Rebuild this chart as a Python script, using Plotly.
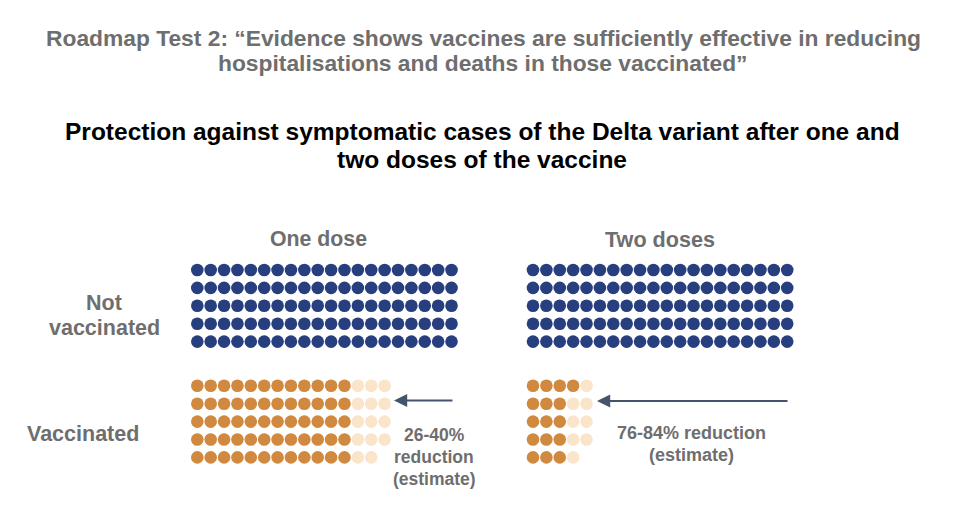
import plotly.graph_objects as go

# ---- data ----
groups = ["One dose", "Two doses"]
unvacc_cases = [100, 100]          # symptomatic cases per 100, not vaccinated
vacc_upper = [74, 24]              # upper estimate of cases (lower reduction bound)
vacc_lower = [60, 16]              # lower estimate of cases (upper reduction bound)
unvacc_rows = [[20, 20, 20, 20, 20], [20, 20, 20, 20, 20]]
vacc_dark_rows = [[12, 12, 12, 12, 12], [4, 3, 3, 3, 3]]
vacc_light_rows = [[3, 3, 3, 3, 2], [1, 2, 2, 2, 1]]
reduction_labels = [["26-40%", "reduction", "(estimate)"], ["76-84% reduction", "(estimate)"]]
row_labels = [["Not", "vaccinated"], ["Vaccinated"]]
title_lines = ["Roadmap Test 2: \u201cEvidence shows vaccines are sufficiently effective in reducing",
               "hospitalisations and deaths in those vaccinated\u201d"]
subtitle_lines = ["Protection against symptomatic cases of the Delta variant after one and",
                  "two doses of the vaccine"]

BLUE = "#283F7F"
ORANGE = "#D0893E"
LIGHT = "#FAE4CA"
GRAY = "#6E6E6E"
ARROW = "#44546A"
FONT = "Liberation Sans, Arial, sans-serif"

# layout constants (pixel-like axis)
x0 = [197.3, 533.0]
dx = 13.38
y_top = [270.0, 385.8]
dy = 17.9

fig = go.Figure()

def add_dots(xs, ys, color):
    fig.add_trace(go.Scatter(x=xs, y=ys, mode="markers",
                             marker=dict(size=12.6, color=color, line=dict(width=0)),
                             hoverinfo="skip", showlegend=False))

for g in range(2):
    xs, ys = [], []
    for r, n in enumerate(unvacc_rows[g]):
        for c in range(n):
            xs.append(x0[g] + dx * c)
            ys.append(y_top[0] + dy * r)
    add_dots(xs, ys, BLUE)
    xd, yd, xl, yl = [], [], [], []
    for r in range(5):
        nd = vacc_dark_rows[g][r]
        nl = vacc_light_rows[g][r]
        for c in range(nd):
            xd.append(x0[g] + dx * c)
            yd.append(y_top[1] + dy * r)
        for c in range(nd, nd + nl):
            xl.append(x0[g] + dx * c)
            yl.append(y_top[1] + dy * r)
    add_dots(xl, yl, LIGHT)
    add_dots(xd, yd, ORANGE)

annotations = []

def add_lines(lines, x, y_first, spacing, size, color):
    for i, line in enumerate(lines):
        annotations.append(dict(x=x, y=y_first + spacing * i, text="<b>" + line + "</b>",
                                showarrow=False, font=dict(family=FONT, size=size, color=color)))

add_lines(title_lines, 483, 38, 25, 22.8, GRAY)
add_lines(subtitle_lines, 482, 131, 28, 24.5, "#000000")
add_lines([groups[0]], 318, 239, 0, 21.3, GRAY)
add_lines([groups[1]], 660, 239, 0, 21.6, GRAY)
add_lines(row_labels[0], 104, 303, 25, 21.5, GRAY)
add_lines(row_labels[1], 83, 434, 0, 21.5, GRAY)
add_lines(reduction_labels[0], 434, 435, 22, 17.5, GRAY)
add_lines(reduction_labels[1], 691, 433, 22, 18, GRAY)

annotations.append(dict(x=394, y=400.5, ax=454, ay=400.5, axref="x", ayref="y",
                        text="", showarrow=True, arrowhead=2, arrowsize=1.2, arrowwidth=2.2, arrowcolor=ARROW))
annotations.append(dict(x=597, y=401, ax=789, ay=401, axref="x", ayref="y",
                        text="", showarrow=True, arrowhead=2, arrowsize=1.2, arrowwidth=2.2, arrowcolor=ARROW))
for a in annotations:
    a.setdefault("xref", "x")
    a.setdefault("yref", "y")

# page body has an 8px margin: size the figure to fit and map axis units to page pixels
fig.update_layout(
    width=952, height=515,
    margin=dict(l=0, r=0, t=0, b=0),
    paper_bgcolor="white", plot_bgcolor="white",
    xaxis=dict(range=[8, 960], visible=False, fixedrange=True),
    yaxis=dict(range=[523, 8], visible=False, fixedrange=True),
    annotations=annotations,
    font=dict(family=FONT),
)

fig.write_html("out.html")
